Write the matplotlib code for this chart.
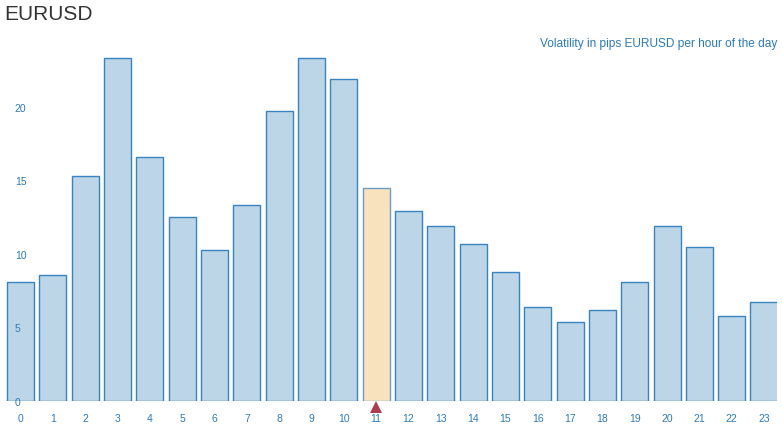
import numpy as np
import matplotlib.pyplot as plt
from matplotlib.transforms import ScaledTranslation

plt.rcParams['font.family'] = ['Liberation Sans', 'DejaVu Sans']

hours = list(range(24))
volatility = [8.1, 8.6, 15.3, 23.3, 16.6, 12.5, 10.3, 13.3, 19.7, 23.3, 21.9, 14.5,
              12.9, 11.9, 10.7, 8.8, 6.4, 5.4, 6.2, 8.1, 11.9, 10.5, 5.8, 6.7]
current_hour = 11
yticks = [0, 5, 10, 15, 20]

title = "EURUSD"
subtitle = "Volatility in pips EURUSD per hour of the day"

blue_text = "#2b7bb9"
fill = "#bcd6e8"
edge = "#3684c0"
hl_fill = "#f8e2be"
hl_edge = "#6a9cc6"

fig = plt.figure(figsize=(7.83, 4.27), dpi=100)
ax = fig.add_axes([5 / 783, 25 / 427, 772 / 783, 353 / 427])

colors = [hl_fill if h == current_hour else fill for h in hours]
edges = [hl_edge if h == current_hour else edge for h in hours]
ax.bar(hours, volatility, width=0.84, color=colors, edgecolor=edges, linewidth=1.0, zorder=1)

# marker under the current hour, sitting just below the baseline
shift = ax.transData + ScaledTranslation(0, -4.5 / 72, fig.dpi_scale_trans)
ax.plot([current_hour], [0], marker="^", color="#b03a4e", markersize=9,
        markeredgewidth=0, clip_on=False, zorder=3, transform=shift)

ax.set_xlim(-0.48, 23.4)
ax.set_ylim(0, 24)
ax.axhline(0, color="#cccccc", linewidth=1, zorder=0.5)

ax.set_xticks(hours)
ax.set_xticklabels([str(h) for h in hours])
ax.tick_params(axis="x", length=0, pad=9, labelsize=7.5, labelcolor=blue_text)

ax.set_yticks(yticks)
ax.tick_params(axis="y", length=0, pad=-7, labelsize=7.5, labelcolor=blue_text)
for lbl in ax.get_yticklabels():
    lbl.set_horizontalalignment("left")

for s in ax.spines.values():
    s.set_visible(False)

fig.text(4 / 783, 1 - 14 / 427, title, fontsize=15, color="#333333", va="center", ha="left")
fig.text(777 / 783, 1 - 44 / 427, subtitle, fontsize=8.6, color=blue_text, va="center", ha="right")

fig.savefig("out.png", dpi=100)
